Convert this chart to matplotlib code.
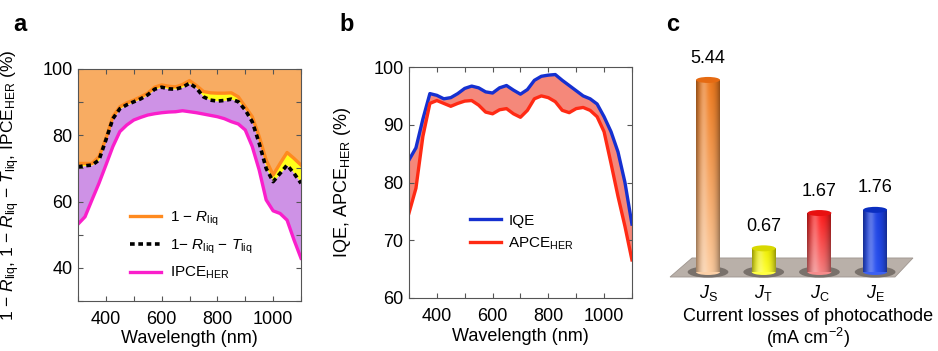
import numpy as np
import matplotlib
matplotlib.use('Agg')
import matplotlib.pyplot as plt
from matplotlib.patches import Ellipse, Polygon
from matplotlib.colors import to_rgb

plt.rcParams['font.family'] = ['Liberation Sans', 'DejaVu Sans']
plt.rcParams['mathtext.fontset'] = 'custom'
plt.rcParams['mathtext.rm'] = 'Liberation Sans'
plt.rcParams['mathtext.it'] = 'Liberation Sans:italic'
plt.rcParams['mathtext.bf'] = 'Liberation Sans:bold'

# wavelength grid (nm)
wl = [300, 325, 350, 375, 400, 425, 450, 475, 500, 525, 550, 575, 600, 625, 650, 675, 700,
      725, 750, 775, 800, 825, 850, 875, 900, 925, 950, 975, 1000, 1025, 1050, 1075, 1100]

# panel a
one_minus_r = [71.5, 71.5, 71.5, 73.5, 79.0, 85.6, 88.6, 89.8, 90.6, 91.6, 92.7, 94.5, 95.2, 94.8,
               94.6, 95.3, 96.5, 95.0, 93.2, 92.8, 92.7, 92.7, 92.8, 91.6, 88.6, 85.6, 79.6, 72.5,
               68.0, 71.5, 74.8, 73.0, 71.0]
one_minus_rt = [70.5, 70.8, 71.0, 72.5, 78.6, 85.0, 88.0, 89.2, 90.1, 91.0, 92.2, 93.9, 94.5, 94.0,
                93.9, 94.5, 95.7, 94.2, 91.6, 90.6, 90.3, 90.5, 90.9, 90.1, 87.6, 84.1, 77.6, 70.0,
                66.0, 68.5, 71.0, 68.5, 65.5]
ipce_her = [53.2, 55.4, 60.5, 65.5, 71.0, 76.6, 81.1, 83.1, 84.6, 85.4, 86.1, 86.5, 86.8, 87.0,
            87.1, 87.4, 87.1, 86.8, 86.4, 86.0, 85.6, 85.0, 84.1, 83.4, 81.6, 76.6, 69.5, 60.5,
            57.2, 56.4, 54.4, 48.4, 42.9]

# panel b
iqe = [83.9, 86.0, 91.0, 95.4, 95.1, 94.5, 94.7, 95.4, 96.3, 96.7, 96.4, 95.7, 95.5, 96.4, 96.8,
       96.0, 95.3, 96.1, 97.7, 98.4, 98.6, 98.7, 97.7, 96.8, 95.9, 95.0, 94.5, 93.6, 91.4, 88.8,
       85.3, 80.0, 72.8]
apce_her = [74.7, 79.0, 88.0, 93.7, 94.2, 93.7, 93.2, 93.7, 94.1, 94.2, 93.4, 92.2, 91.9, 92.6,
            92.8, 91.9, 91.3, 92.5, 94.5, 95.0, 94.7, 94.0, 92.5, 92.1, 92.8, 93.0, 92.5, 91.4,
            88.8, 83.3, 77.6, 72.4, 66.6]

# panel c
loss_names = ['$J_{\\rm S}$', '$J_{\\rm T}$', '$J_{\\rm C}$', '$J_{\\rm E}$']
losses = [5.44, 0.67, 1.67, 1.76]
loss_top = ['#EE7A1E', '#EEEE00', '#FF1A1A', '#1A3FE0']
loss_bottom = ['#FCCB9E', '#FFFF30', '#F58080', '#2850F0']
loss_cap = ['#E56A12', '#D8D800', '#E81010', '#0A2EC0']

fig = plt.figure(figsize=(9.38, 3.51), dpi=100)

spine_c = '#555555'


def style(ax):
    for s in ax.spines.values():
        s.set_color(spine_c)
        s.set_linewidth(0.8)
    ax.tick_params(direction='in', top=True, right=True, length=3.5, width=0.8,
                   color=spine_c, labelsize=13)
    ax.tick_params(axis='x', pad=7)
    ax.tick_params(axis='y', pad=4)
    ax.tick_params(which='minor', direction='in', top=True, right=True, length=3.5,
                   width=0.8, color=spine_c)


# ---- a ----
ax1 = fig.add_axes([0.0832, 0.1425, 0.2377, 0.661])
ax1.fill_between(wl, one_minus_r, 100, color='#F8AC62', lw=0)
ax1.fill_between(wl, one_minus_rt, one_minus_r, color='#FFFF1A', lw=0)
ax1.fill_between(wl, ipce_her, one_minus_rt, color='#CE92E6', lw=0)
ax1.plot(wl, one_minus_r, color='#FF8A1F', lw=2.4, solid_joinstyle='round',
         label='1 $-$ $R_{\\rm liq}$')
ax1.plot(wl, one_minus_rt, color='black', lw=2.6, ls=(0, (1.3, 1.0)),
         label='1$-$ $R_{\\rm liq}$ $-$ $T_{\\rm liq}$')
ax1.plot(wl, ipce_her, color='#FA1ECB', lw=2.4, solid_joinstyle='round',
         label='IPCE$_{\\rm HER}$')
ax1.set_xlim(300, 1100)
ax1.set_ylim(30, 100)
ax1.set_xticks([400, 600, 800, 1000])
ax1.set_xticks([300, 500, 700, 900, 1100], minor=True)
ax1.set_yticks([40, 60, 80, 100])
ax1.set_yticks([30, 50, 70, 90], minor=True)
style(ax1)
ax1.set_xlabel('Wavelength (nm)', fontsize=13)
ax1.xaxis.set_label_coords(0.5, -0.125)
ax1.set_ylabel('1 $-$ $R_{\\rm liq}$, 1 $-$ $R_{\\rm liq}$ $-$ $T_{\\rm liq}$, IPCE$_{\\rm HER}$ (%)',
               fontsize=12.5)
ax1.yaxis.set_label_coords(-0.25, 0.5)
ax1.legend(loc='lower left', bbox_to_anchor=(0.235, 0.085), frameon=False, fontsize=11,
           handlelength=2.0, handletextpad=0.6, labelspacing=0.6, borderpad=0,
           borderaxespad=0)

# ---- b ----
ax2 = fig.add_axes([0.436, 0.151, 0.2377, 0.658])
ax2.fill_between(wl, apce_her, iqe, color='#F5887A', lw=0)
ax2.plot(wl, iqe, color='#1530D0', lw=2.4, solid_joinstyle='round', label='IQE')
ax2.plot(wl, apce_her, color='#FF2A14', lw=2.4, solid_joinstyle='round',
         label='APCE$_{\\rm HER}$')
ax2.set_xlim(300, 1100)
ax2.set_ylim(60, 100)
ax2.set_xticks([400, 600, 800, 1000])
ax2.set_xticks([300, 500, 700, 900, 1100], minor=True)
ax2.set_yticks([60, 70, 80, 90, 100])
style(ax2)
ax2.set_xlabel('Wavelength (nm)', fontsize=13)
ax2.xaxis.set_label_coords(0.5, -0.13)
ax2.set_ylabel('IQE, APCE$_{\\rm HER}$ (%)', fontsize=13)
ax2.yaxis.set_label_coords(-0.25, 0.5)
ax2.legend(loc='lower left', bbox_to_anchor=(0.275, 0.2), frameon=False, fontsize=11,
           handlelength=2.0, handletextpad=0.5, labelspacing=0.5, borderpad=0,
           borderaxespad=0)

# ---- c ----
ax3 = fig.add_axes([0.6823, 0.1738, 0.3177, 0.7123])
ax3.set_axis_off()
pos = np.arange(len(losses))
bw = 0.43
eh = 0.17
# platform
ax3.add_patch(Polygon([(-0.682, -0.142), (3.357, -0.142), (3.680, 0.397), (-0.287, 0.397)],
                      closed=True, facecolor='#B9B0A9', edgecolor='#9E958F', lw=0.6, zorder=1))
bars = ax3.bar(pos, losses, width=bw, color='none', edgecolor='none', zorder=3)
u = np.linspace(-1, 1, 80)
v = np.linspace(0, 1, 80)[:, None]
dark = 1 - 0.38 * np.abs(u) ** 2.5
hl = 0.28 * np.exp(-((u + 0.35) / 0.35) ** 2)
for i, b in enumerate(bars):
    x0, w, h = b.get_x(), b.get_width(), b.get_height()
    xc = x0 + w / 2
    t = np.array(to_rgb(loss_top[i]))
    bt = np.array(to_rgb(loss_bottom[i]))
    rgb = t[None, None, :] * (1 - v[..., None]) + bt[None, None, :] * v[..., None]
    pix = rgb * dark[None, :, None]
    pix = pix + (1 - pix) * hl[None, :, None]
    ax3.add_patch(Ellipse((xc, 0), w * 1.7, 0.32, facecolor='#6E6661', edgecolor='none',
                          alpha=0.85, zorder=2))
    ax3.add_patch(Ellipse((xc, 0), w, eh, facecolor=pix[-1, 40], edgecolor='none', zorder=3))
    im = ax3.imshow(np.clip(pix, 0, 1), extent=(x0, x0 + w, 0, h), origin='upper',
                    aspect='auto', zorder=4, interpolation='bilinear')
    im.set_clip_path(b)
    ax3.add_patch(Ellipse((xc, h), w, eh, facecolor=loss_cap[i], edgecolor='none', zorder=5))
    ax3.text(xc, h + 0.62, f'{losses[i]:.2f}', ha='center', va='center', fontsize=13)
    ax3.text(xc, -0.6, loss_names[i], ha='center', va='center', fontsize=13)
ax3.set_xlim(-1.221, 4.129)
ax3.set_ylim(-0.51, 6.572)

fig.text(0.861, 0.099, 'Current losses of photocathode', ha='center', va='center', fontsize=13)
fig.text(0.861, 0.038, '(mA cm$^{-2}$)', ha='center', va='center', fontsize=13)

fig.text(0.021, 0.929, 'a', fontsize=17, fontweight='bold', ha='center', va='center')
fig.text(0.370, 0.929, 'b', fontsize=17, fontweight='bold', ha='center', va='center')
fig.text(0.7175, 0.929, 'c', fontsize=17, fontweight='bold', ha='center', va='center')

fig.savefig('out.png', dpi=100)
